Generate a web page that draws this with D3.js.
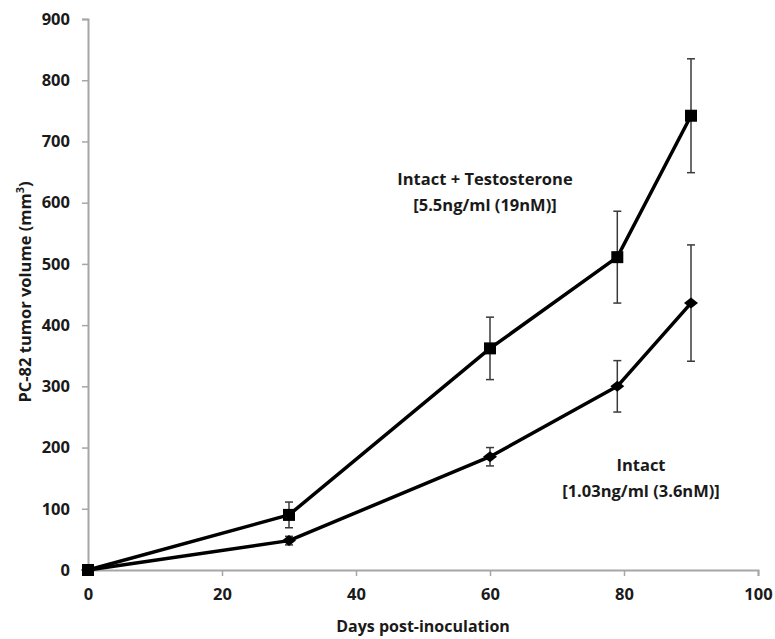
<!DOCTYPE html>
<html>
<head>
<meta charset="utf-8">
<script src="https://cdn.jsdelivr.net/npm/d3@7"></script>
<style>
  html, body { margin: 0; padding: 0; background: #ffffff; }
  svg { display: block; font-family: "Open Sans", sans-serif; font-weight: bold; }
</style>
</head>
<body>
<div id="chart"></div>
<script>
// PC-82 tumor volume over time
const days = [0, 30, 60, 79, 90];
const testosteroneVolume = [0, 90, 362, 511, 742];
const testosteroneError = [0, 21, 51, 75, 93];
const intactVolume = [0, 48, 185, 300, 436];
const intactError = [0, 7, 15, 42, 95];
const xTicks = [0, 20, 40, 60, 80, 100];
const yTicks = [0, 100, 200, 300, 400, 500, 600, 700, 800, 900];

const width = 775, height = 639;
const margin = { top: 19, right: 17, bottom: 69, left: 88 };
const font = '"Open Sans", sans-serif';
const textColor = '#1a1a1a';

const svg = d3.select('#chart').append('svg')
    .attr('width', width)
    .attr('height', height);

const x = d3.scaleLinear().domain([0, 100]).range([margin.left, width - margin.right]);
const y = d3.scaleLinear().domain([0, 900]).range([height - margin.bottom, margin.top]);

const axisColor = '#a6a6a6';

// Y axis
const yAxis = svg.append('g')
    .attr('transform', `translate(${margin.left},0)`)
    .call(d3.axisLeft(y).tickValues(yTicks).tickSize(6).tickPadding(12));
yAxis.select('.domain').attr('stroke', axisColor).attr('stroke-width', 2);
yAxis.selectAll('.tick line').attr('stroke', axisColor).attr('stroke-width', 1.5);
yAxis.selectAll('.tick text')
    .attr('font-family', font)
    .attr('font-weight', 'bold')
    .attr('font-size', 16.5)
    .attr('fill', textColor);

// X axis
const xAxis = svg.append('g')
    .attr('transform', `translate(0,${y(0)})`)
    .call(d3.axisBottom(x).tickValues(xTicks).tickSize(6).tickPadding(12));
xAxis.select('.domain').attr('stroke', axisColor).attr('stroke-width', 2);
xAxis.selectAll('.tick line').attr('stroke', axisColor).attr('stroke-width', 1.5);
xAxis.selectAll('.tick text')
    .attr('font-family', font)
    .attr('font-weight', 'bold')
    .attr('font-size', 16.5)
    .attr('fill', textColor);

// Axis titles
svg.append('text')
    .attr('x', (x(0) + x(100)) / 2)
    .attr('y', 632)
    .attr('text-anchor', 'middle')
    .attr('font-size', 16)
    .attr('fill', textColor)
    .text('Days post-inoculation');

const yTitle = svg.append('text')
    .attr('transform', `translate(31,292) rotate(-90)`)
    .attr('text-anchor', 'middle')
    .attr('font-size', 16.5)
    .attr('fill', textColor);
yTitle.append('tspan').text('PC-82 tumor volume (mm');
yTitle.append('tspan').attr('font-size', 11).attr('dy', -7).text('3');
yTitle.append('tspan').attr('dy', 7).text(')');

// Series
const series = [
    { name: 'intact', vol: intactVolume, err: intactError, marker: 'diamond' },
    { name: 'testosterone', vol: testosteroneVolume, err: testosteroneError, marker: 'square' }
];

const line = d3.line()
    .x(d => x(d.day))
    .y(d => y(d.vol));

series.forEach(s => {
    const pts = days.map((d, i) => ({ day: d, vol: s.vol[i], err: s.err[i] }));
    const g = svg.append('g').attr('class', s.name);

    // Error bars
    const eb = g.selectAll('.err')
        .data(pts.filter(p => p.err > 0))
        .enter().append('g')
        .attr('class', 'err')
        .attr('stroke', '#3a3a3a')
        .attr('stroke-width', 1.5);
    eb.append('line')
        .attr('x1', d => x(d.day)).attr('x2', d => x(d.day))
        .attr('y1', d => y(d.vol + d.err)).attr('y2', d => y(d.vol - d.err));
    eb.append('line')
        .attr('x1', d => x(d.day) - 4).attr('x2', d => x(d.day) + 4)
        .attr('y1', d => y(d.vol + d.err)).attr('y2', d => y(d.vol + d.err));
    eb.append('line')
        .attr('x1', d => x(d.day) - 4).attr('x2', d => x(d.day) + 4)
        .attr('y1', d => y(d.vol - d.err)).attr('y2', d => y(d.vol - d.err));

    // Line
    g.append('path')
        .datum(pts)
        .attr('d', line)
        .attr('fill', 'none')
        .attr('stroke', '#000000')
        .attr('stroke-width', 3.5)
        .attr('stroke-linejoin', 'round');

    // Markers
    if (s.marker === 'square') {
        g.selectAll('.mk')
            .data(pts)
            .enter().append('rect')
            .attr('class', 'mk')
            .attr('x', d => x(d.day) - 6)
            .attr('y', d => y(d.vol) - 6)
            .attr('width', 12)
            .attr('height', 12)
            .attr('fill', '#000000');
    } else {
        g.selectAll('.mk')
            .data(pts)
            .enter().append('path')
            .attr('class', 'mk')
            .attr('transform', d => `translate(${x(d.day)},${y(d.vol)})`)
            .attr('d', 'M-7,0L0,-5.5L7,0L0,5.5Z')
            .attr('fill', '#000000');
    }
});

// Annotations
const notes = [
    { lines: ['Intact + Testosterone', '[5.5ng/ml (19nM)]'], cx: 485, y0: 185 },
    { lines: ['Intact', '[1.03ng/ml (3.6nM)]'], cx: 641, y0: 471 }
];
notes.forEach(n => {
    n.lines.forEach((t, i) => {
        svg.append('text')
            .attr('x', n.cx)
            .attr('y', n.y0 + i * 26)
            .attr('text-anchor', 'middle')
            .attr('font-size', 16.5)
            .attr('fill', textColor)
            .text(t);
    });
});
</script>
</body>
</html>
